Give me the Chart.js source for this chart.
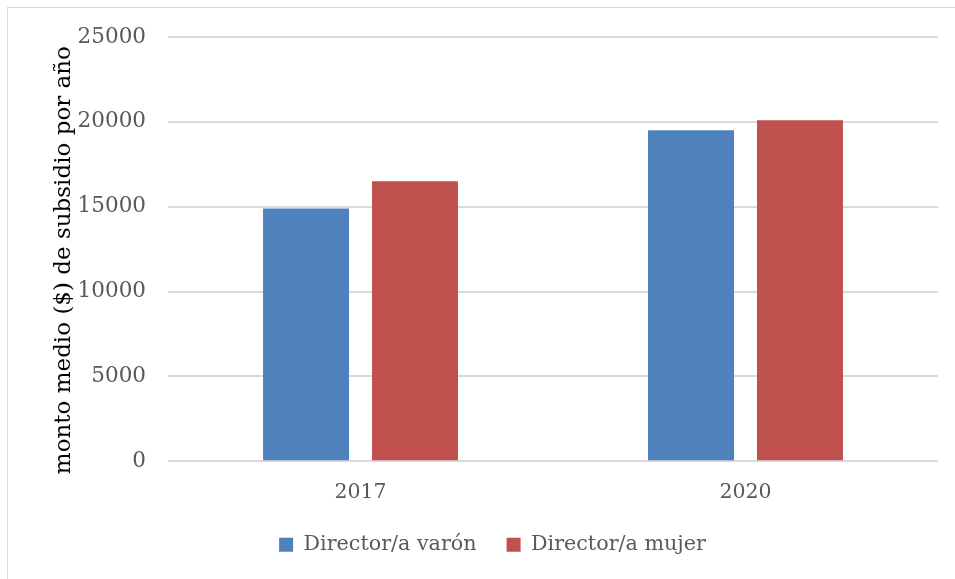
<!DOCTYPE html>
<html>
<head>
<meta charset="utf-8">
<script src="https://cdn.jsdelivr.net/npm/chart.js@4"></script>
<style>
  html, body { margin: 0; padding: 0; background: #ffffff; }
  #wrap { width: 955px; height: 579px; position: relative; }
</style>
</head>
<body>
<div id="wrap"><canvas id="c" width="955" height="579"></canvas></div>
<script>
const categories = ['2017', '2020'];
const seriesNames = ['Director/a varón', 'Director/a mujer'];
const varonValues = [14900, 19500];
const mujerValues = [16500, 20100];
const yTicks = [0, 5000, 10000, 15000, 20000, 25000];
const yTitle = 'monto medio ($) de subsidio por año';

const FONT = "'DejaVu Serif', serif";

const frame = {
  id: 'frame',
  beforeDraw(chart) {
    const ctx = chart.ctx;
    ctx.save();
    ctx.fillStyle = '#ffffff';
    ctx.fillRect(0, 0, chart.width, chart.height);
    ctx.strokeStyle = '#d9d9d9';
    ctx.lineWidth = 1;
    ctx.strokeRect(7.5, 7.5, 1000, 1000);
    ctx.restore();
  }
};

new Chart(document.getElementById('c'), {
  type: 'bar',
  data: {
    labels: categories,
    datasets: [
      { label: seriesNames[0], data: varonValues, backgroundColor: '#4f81bd', borderWidth: 0 },
      { label: seriesNames[1], data: mujerValues, backgroundColor: '#c0504d', borderWidth: 0 }
    ]
  },
  options: {
    responsive: false,
    animation: false,
    layout: { padding: { left: 47, right: 17, top: 37, bottom: 14 } },
    datasets: { bar: { categoryPercentage: 0.566, barPercentage: 0.789 } },
    plugins: {
      tooltip: { enabled: false },
      legend: {
        position: 'bottom',
        labels: {
          boxWidth: 14, boxHeight: 14, padding: 30,
          color: '#595959',
          font: { family: FONT, size: 20.7 }
        }
      }
    },
    scales: {
      x: {
        grid: { display: false, drawTicks: false },
        border: { display: false },
        ticks: { color: '#595959', padding: 19, font: { family: FONT, size: 20.5 } },
        afterFit(scale) { scale.height = 43; }
      },
      y: {
        min: 0, max: 25000,
        afterBuildTicks(scale) { scale.ticks = yTicks.map(v => ({ value: v })); },
        grid: { color: '#d9d9d9', lineWidth: 2, drawTicks: false },
        border: { display: false },
        ticks: {
          color: '#595959', padding: 22, font: { family: FONT, size: 21.5 },
          callback: (v) => String(v)
        },
        title: {
          display: true, text: yTitle + '\u00A0\u00A0\u00A0', color: '#000000',
          font: { family: FONT, size: 23 }, padding: { top: 3, bottom: 0 }
        },
        afterFit(scale) { scale.width = 121; }
      }
    }
  },
  plugins: [frame]
});
</script>
</body>
</html>
